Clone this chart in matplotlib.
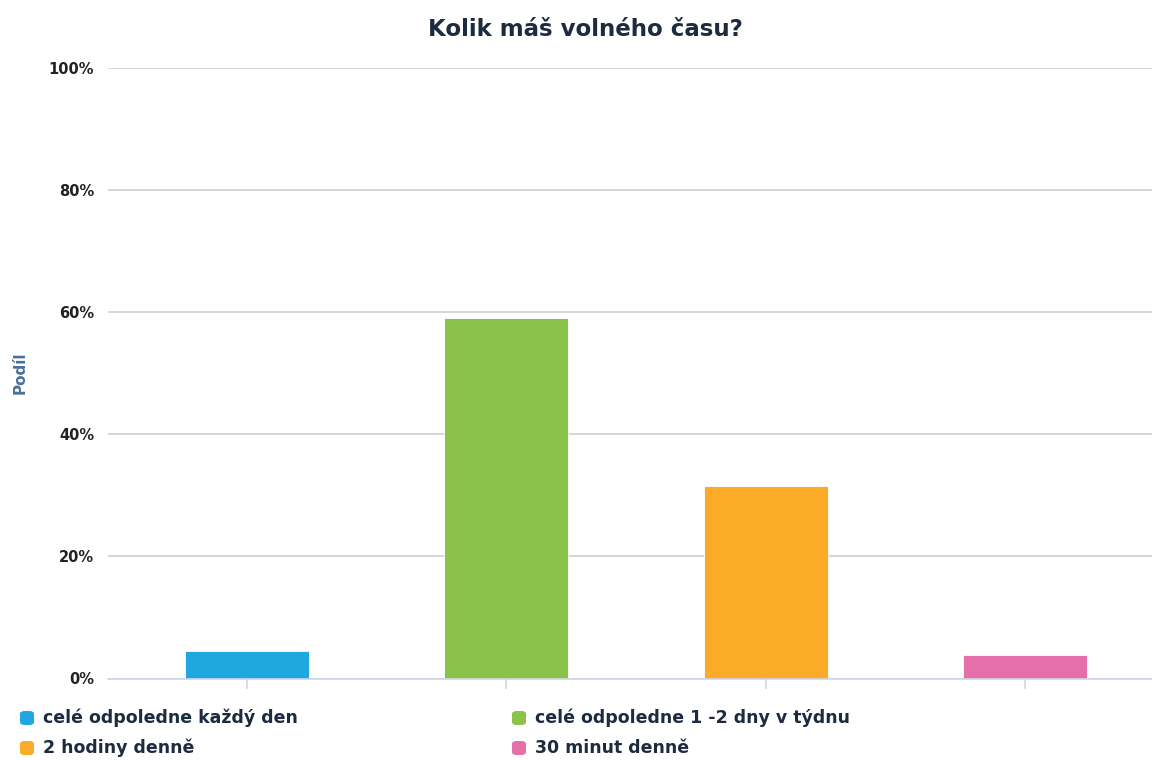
import matplotlib
matplotlib.use("Agg")
from matplotlib import pyplot as plt
from matplotlib.patches import FancyBboxPatch
from matplotlib.ticker import FuncFormatter
import numpy as np

categories = ["celé odpoledne každý den", "celé odpoledne 1 -2 dny v týdnu", "2 hodiny denně", "30 minut denně"]
values = [4.55, 59.05, 31.6, 3.8]
colors = ["#1fa8e0", "#8bc34a", "#fbab27", "#e56fa8"]
yticks = [0, 20, 40, 60, 80, 100]

W, H = 1152, 760
fig = plt.figure(figsize=(W / 100, H / 100), dpi=100)
# plot area in pixels: left 108, right 1152, top 68, bottom 678.5
ax = fig.add_axes([108 / W, 1 - 678.5 / H, (1152 - 108) / W, (678.5 - 68) / H])

x = np.arange(len(categories))
ax.bar(x, values, width=0.478, color=colors, zorder=3, edgecolor="white", linewidth=0.6)

ax.set_xlim(-0.536, 3.49)
ax.set_ylim(0, 100)
ax.set_yticks(yticks)
ax.yaxis.set_major_formatter(FuncFormatter(lambda v, p: "%d%%" % v))
ax.grid(axis="y", color="#d2d2d2", linewidth=1.3, zorder=0)
ax.set_xticks(x)
ax.set_xticklabels([])
ax.tick_params(axis="x", length=7, color="#ccd6eb", width=1.2, direction="out")
ax.tick_params(axis="y", length=0, pad=10, labelsize=10.5, labelcolor="#222222")
for lab in ax.get_yticklabels():
    lab.set_fontweight("bold")
for s in ["top", "right", "left"]:
    ax.spines[s].set_visible(False)
ax.spines["bottom"].set_color("#ccd6eb")
ax.spines["bottom"].set_linewidth(1.2)
ax.spines["bottom"].set_zorder(4)

fig.text(585 / W, 1 - 30 / H, "Kolik máš volného času?", ha="center", va="center",
         fontsize=16.5, fontweight="bold", color="#1c2b3f")
fig.text(20 / W, 1 - 373 / H, "Podíl", rotation=90, ha="center", va="center",
         fontsize=11, fontweight="bold", color="#4a6f99")

# legend, two columns
leg_pos = [(27, 718), (519, 718), (27, 748), (519, 748)]
for (px, py), name, c in zip(leg_pos, categories, colors):
    box = FancyBboxPatch(((px - 7) / W, 1 - (py + 7) / H), 14 / W, 14 / H,
                         boxstyle="round,pad=0,rounding_size=0.004", transform=fig.transFigure,
                         facecolor=c, edgecolor="none")
    fig.patches.append(box)
    fig.text((px + 16) / W, 1 - py / H, name, ha="left", va="center",
             fontsize=12.5, fontweight="bold", color="#1c2b3f")

fig.savefig("out.png", dpi=100)
